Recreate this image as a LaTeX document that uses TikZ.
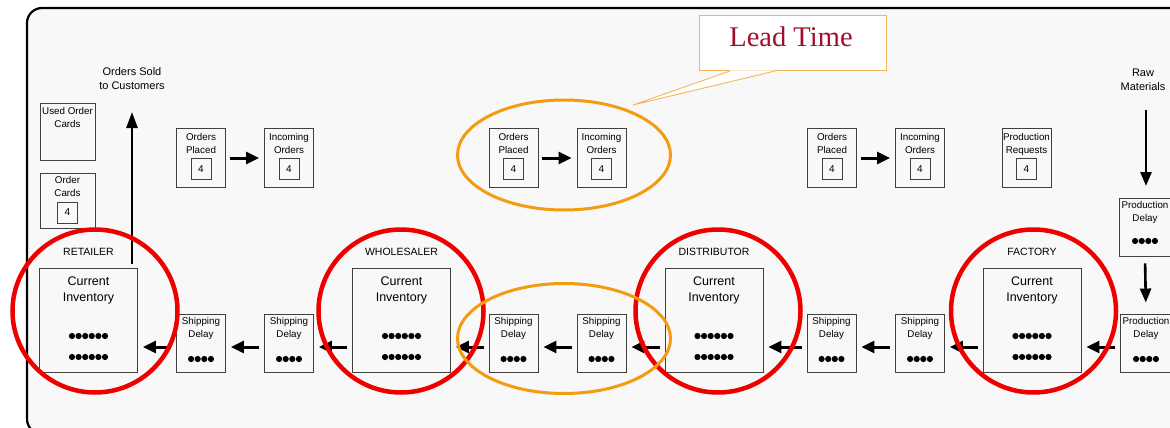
\documentclass[tikz,border=0pt]{standalone}
\usepackage{fontspec}
\setmainfont{Liberation Sans}
\newfontfamily\leadfont{Liberation Serif}
\usetikzlibrary{arrows.meta,shapes.geometric,calc}
\definecolor{redring}{RGB}{238,0,0}
\definecolor{orgring}{RGB}{243,156,18}
\definecolor{leadred}{RGB}{160,16,42}
\definecolor{calloutc}{RGB}{247,181,91}
\definecolor{bgc}{RGB}{248,248,248}
\newcommand\dotsrow[2]{\foreach \k in {1,...,#2}{\fill #1 ++({(\k-(#2+1)/2)*6.6},0) circle[radius=3.1pt];}}
\begin{document}
\begin{tikzpicture}[x=1pt,y=-1pt,
 bx/.style={draw=black!75, line width=0.9pt, minimum width=49pt, minimum height=58pt, inner sep=0pt},
 invbx/.style={bx, minimum width=98pt, minimum height=104pt},
 numbx/.style={draw=black!75, line width=0.8pt, minimum width=20pt, minimum height=21pt, inner sep=0pt, font=\fontsize{10}{12}\selectfont},
 smalltxt/.style={font=\fontsize{9.8}{12.8}\selectfont, align=center, inner sep=0pt, anchor=north},
 invtxt/.style={font=\fontsize{12.5}{16}\selectfont, align=center, inner sep=0pt, anchor=north},
 captxt/.style={font=\fontsize{10.5}{13}\selectfont, inner sep=0pt},
 sidetxt/.style={font=\fontsize{11}{14}\selectfont, align=center, inner sep=0pt},
 arr/.style={line width=3pt, -{Triangle[length=13pt,width=12pt]}},
 redcirc/.style={draw=redring, line width=4.5pt, ellipse, minimum width=165pt, minimum height=163pt, inner sep=0pt},
 orgcirc/.style={draw=orgring, line width=3pt, ellipse, minimum width=213pt, minimum height=110pt, inner sep=0pt},
]
\useasboundingbox (0,0) rectangle (1170,428);
\clip (0,0) rectangle (1170,428);
\fill[white] (0,0) rectangle (1170,428);
\draw[line width=2.2pt, rounded corners=15pt, fill=bgc] (27,8) rectangle (1210,434);

% ---------- top row ----------
\node[sidetxt] (sold) at (132,79) {Orders Sold\\to Customers};
\node[sidetxt] (raw) at (1143,80) {Raw\\Materials};

\node[bx, minimum width=55pt, minimum height=57pt] (used) at (67.5,131.5) {};
\node[smalltxt] (usedt) at ($(used.north)+(0,5)$) {Used Order\\Cards};

\node[bx, minimum width=55pt, minimum height=55pt] (oc) at (67.5,200.5) {};
\node[smalltxt] (oct) at ($(oc.north)+(0,4)$) {Order\\Cards};
\node[numbx] (ocn) at ($(oc.north)+(0,40)$) {4};

\foreach \nm/\cx/\tx in {op1/201/{Orders\\Placed}, io1/289/{Incoming\\Orders},
                         op2/513.5/{Orders\\Placed}, io2/601.5/{Incoming\\Orders},
                         op3/832/{Orders\\Placed}, io3/920/{Incoming\\Orders},
                         pr/1026.5/{Production\\Requests}}{
  \node[bx, minimum height=59pt] (\nm) at (\cx,158) {};
  \node[smalltxt] (\nm t) at ($(\nm.north)+(0,5)$) {\tx};
  \node[numbx] (\nm n) at ($(\nm.north)+(0,41)$) {4};
}
\draw[arr, shorten <=4pt, shorten >=5pt] (op1) -- (io1);
\draw[arr, shorten <=4pt, shorten >=5pt] (op2) -- (io2);
\draw[arr, shorten <=4pt, shorten >=5pt] (op3) -- (io3);

% ---------- bottom row ----------
\coordinate (ay) at (0,347);
\foreach \nm/\cx/\lb in {ret/88.5/RETAILER, whs/401.5/WHOLESALER, dst/714/DISTRIBUTOR, fac/1032/FACTORY}{
  \node[invbx] (\nm) at (\cx,320.5) {};
  \node[captxt] (\nm c) at ($(\nm.north)+(0,-16)$) {\lb};
  \node[invtxt] (\nm t) at ($(\nm.north)+(0,8.5)$) {Current\\Inventory};
  \dotsrow{($(\nm.center)+(0,15.5)$)}{6}
  \dotsrow{($(\nm.center)+(0,36.5)$)}{6}
}
\foreach \nm/\cx in {sd1/201, sd2/289, sd3/513.5, sd4/601.5, sd5/831.5, sd6/920}{
  \node[bx] (\nm) at (\cx,343) {};
  \node[smalltxt] (\nm t) at ($(\nm.north)+(0,4)$) {Shipping\\Delay};
  \dotsrow{($(\nm.center)+(0,16)$)}{4}
}
\node[bx, minimum width=51pt] (pdb) at (1146,343) {};
\node[smalltxt] (pdbt) at ($(pdb.north)+(0,4)$) {Production\\Delay};
\dotsrow{($(pdb.center)+(0,16)$)}{4}

\node[bx, minimum width=51pt] (pdt) at (1145,227) {};
\node[smalltxt] (pdtt) at ($(pdt.north)+(0,4)$) {Production\\Delay};
\dotsrow{($(pdt.center)+(0,14)$)}{4}

% bottom-row arrows (right to left)
\foreach \a/\b in {pdb/fac, fac/sd6, sd6/sd5, sd5/dst, dst/sd4, sd4/sd3, sd3/whs, whs/sd2, sd2/sd1, sd1/ret}{
  \draw[arr, shorten <=5pt, shorten >=5pt] (\a.west |- ay) -- (\b.east |- ay);
}
% vertical arrows
\coordinate (soldtail) at (132,264);
\coordinate (soldtip) at (132,112);
\draw[arr, line width=2.6pt, -{Triangle[length=16pt,width=11pt]}] (soldtail) -- (soldtip);
\coordinate (rawtail) at (1146,110);
\coordinate (rawtip) at (1146,186);
\draw[arr, line width=2.6pt, -{Triangle[length=14pt,width=11pt]}] (rawtail) -- (rawtip);
\draw[arr, line width=2.6pt, -{Triangle[length=14pt,width=11pt]}, shorten <=7pt, shorten >=11pt] (pdt.south) -- (pdb.north);

% ---------- callout ----------
\node[draw=calloutc, line width=1pt, fill=white, minimum width=187pt, minimum height=55pt, inner sep=0pt] (lead) at (792.5,43.5) {};
\node[text=leadred, font=\leadfont\fontsize{28.5}{30}\selectfont, inner sep=0pt] (leadt) at (791,36.5) {Lead Time};
\coordinate (tip) at (633,105);
\coordinate (pl) at (730,71);
\coordinate (pr2) at (775,71);
\fill[white] ($(pl)+(0,-0.6)$) -- (tip) -- ($(pr2)+(0,-0.6)$) -- cycle;
\draw[calloutc, line width=0.9pt] (pl) -- (tip) -- (pr2);

% ---------- highlight rings ----------
\node[redcirc] (r1) at (95,311) {};
\node[redcirc] (r2) at (401,311) {};
\node[redcirc] (r3) at (718,311) {};
\node[redcirc] (r4) at (1033.5,311) {};
\node[orgcirc] (o1) at (564,155) {};
\node[orgcirc] (o2) at (564,338.5) {};
\end{tikzpicture}
\end{document}
